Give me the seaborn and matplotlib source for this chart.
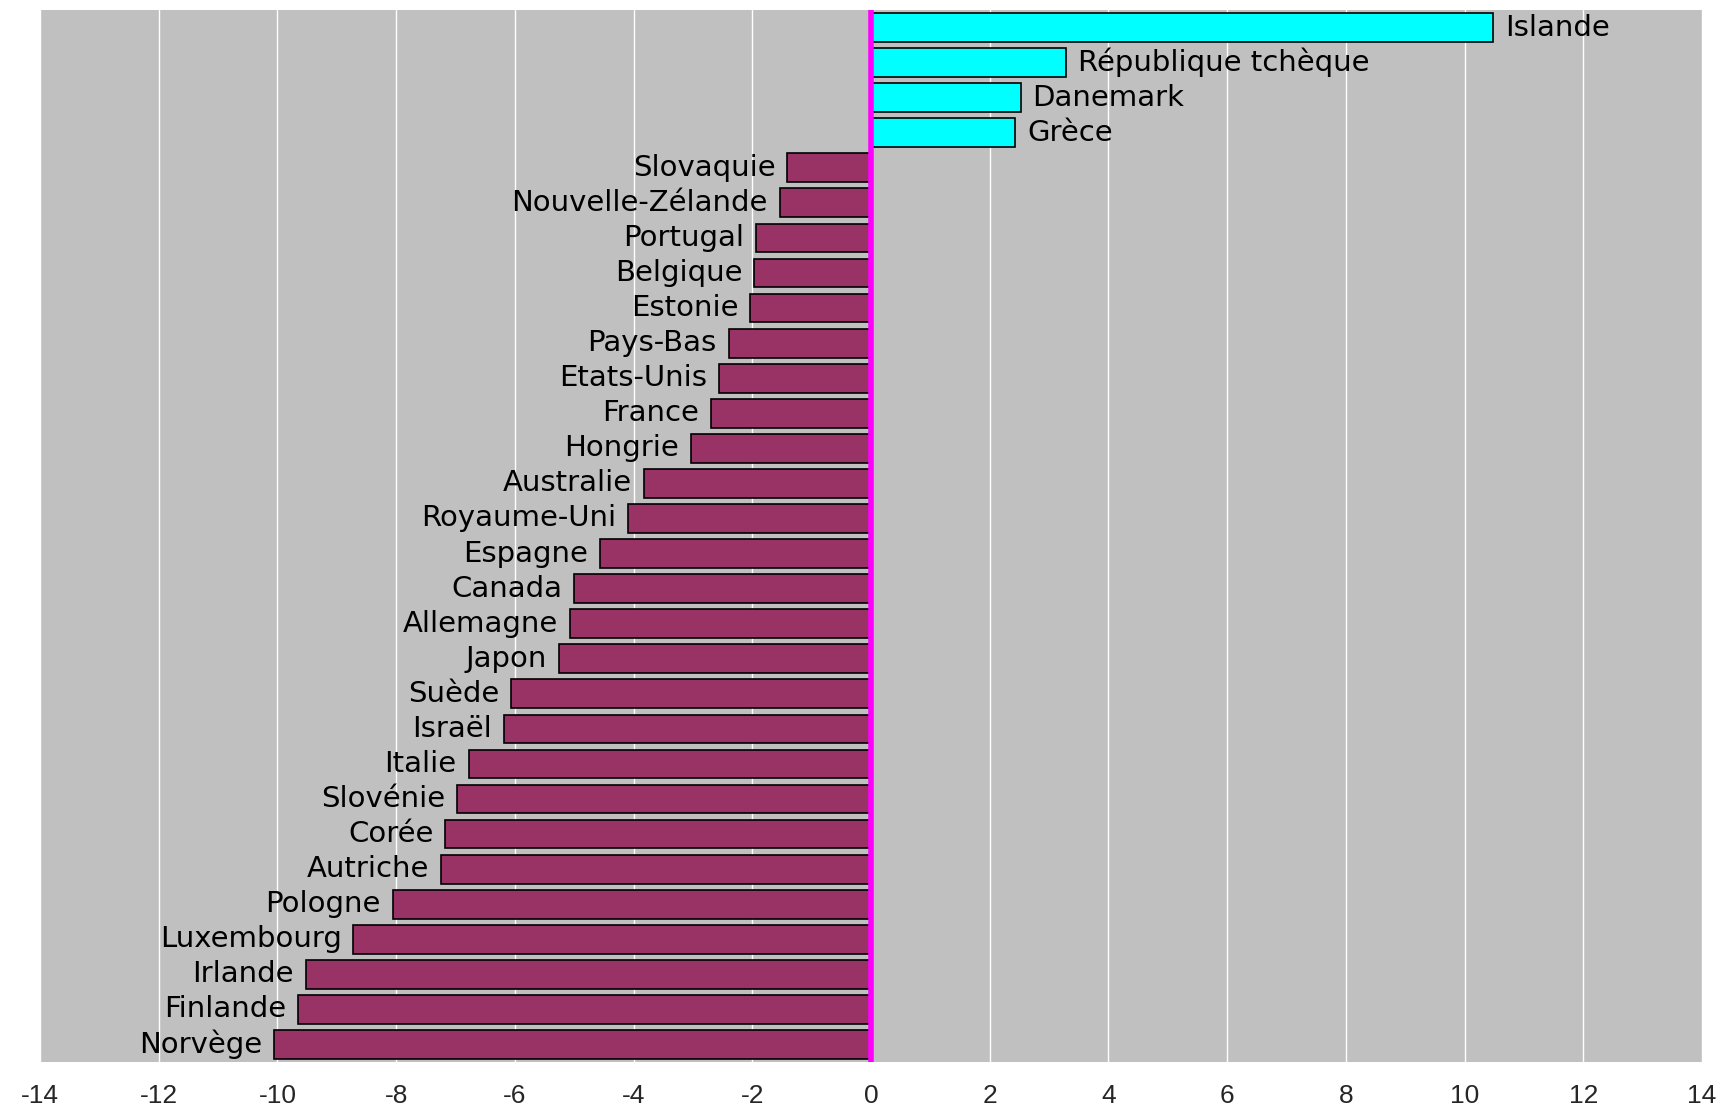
import matplotlib
matplotlib.use("Agg")
import matplotlib.pyplot as plt
import seaborn as sns
import pandas as pd

countries = ["Islande", "République tchèque", "Danemark", "Grèce", "Slovaquie",
             "Nouvelle-Zélande", "Portugal", "Belgique", "Estonie", "Pays-Bas",
             "Etats-Unis", "France", "Hongrie", "Australie", "Royaume-Uni",
             "Espagne", "Canada", "Allemagne", "Japon", "Suède", "Israël",
             "Italie", "Slovénie", "Corée", "Autriche", "Pologne", "Luxembourg",
             "Irlande", "Finlande", "Norvège"]
values = [10.48, 3.28, 2.52, 2.43, -1.41, -1.54, -1.93, -1.97, -2.03, -2.40,
          -2.56, -2.69, -3.04, -3.83, -4.09, -4.56, -5.00, -5.07, -5.26, -6.06,
          -6.19, -6.78, -6.98, -7.17, -7.24, -8.06, -8.72, -9.52, -9.65, -10.06]
xticks = list(range(-14, 15, 2))

df = pd.DataFrame({"pays": countries, "valeur": values})
df["signe"] = ["pos" if v > 0 else "neg" for v in df["valeur"]]

sns.set_theme(style="white")
plt.rcParams["font.family"] = ["DejaVu Sans"]

fig = plt.figure(figsize=(17.24, 11.10), dpi=100)
ax = fig.add_axes([0.0232, 0.0432, 0.9640, 0.9478])
ax.set_facecolor("#C0C0C0")

sns.barplot(data=df, y="pays", x="valeur", hue="signe",
            palette={"pos": "#00FFFF", "neg": "#993366"}, saturation=1,
            order=countries, orient="h", dodge=False, legend=False,
            edgecolor="black", linewidth=1.2, width=0.82, ax=ax, zorder=3)

ax.set_xlim(-14, 14)
ax.set_ylim(len(countries) - 0.5, -0.5)
ax.set_xticks(xticks)
ax.set_xticklabels([str(t) for t in xticks], fontsize=19,
                   family=["Liberation Sans Narrow", "Liberation Sans"])
ax.tick_params(axis="x", length=0, pad=16)
ax.set_yticks([])
ax.set_xlabel("")
ax.set_ylabel("")
for t in xticks:
    if t != 0:
        ax.axvline(t, color="white", lw=1.0, zorder=1)
ax.axvline(0, color="#FF00FF", lw=4, zorder=5)
for s in ax.spines.values():
    s.set_visible(False)

for i, (c, v) in enumerate(zip(countries, values)):
    if v > 0:
        ax.text(v + 0.2, i, c, ha="left", va="center", fontsize=21, color="black", zorder=6)
    else:
        ax.text(v - 0.2, i, c, ha="right", va="center", fontsize=21, color="black", zorder=6)

fig.savefig("out.png", dpi=100)
